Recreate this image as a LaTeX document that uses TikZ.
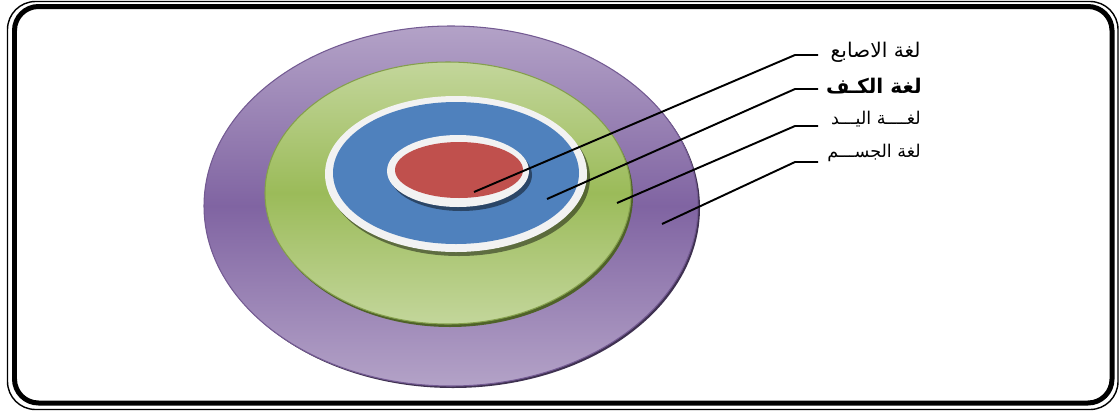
\documentclass[tikz,border=0pt]{standalone}
\usepackage{fontspec}
\newfontfamily\arabicfont[Script=Arabic]{DejaVu Sans}
\TeXXeTstate=1
\usetikzlibrary{positioning,calc}
\definecolor{purpLt}{HTML}{B3A2C7}
\definecolor{purpDk}{HTML}{8064A2}
\definecolor{purpEdge}{HTML}{3F3151}
\definecolor{grnLt}{HTML}{C3D69B}
\definecolor{grnDk}{HTML}{9BBB59}
\definecolor{grnEdge}{HTML}{4F6228}
\definecolor{ringW}{HTML}{F2F2F2}
\definecolor{blueF}{HTML}{4F81BD}
\definecolor{redF}{HTML}{C0504D}
\tikzset{
  frameout/.style={line width=0.8pt,black,rounded corners=28*0.2mm},
  framein/.style={line width=5*0.2mm,black,rounded corners=24*0.2mm},
  disc/.style={line width=0.6pt},
  dshadow/.style={fill=black,opacity=0.45},
  leader/.style={line width=1.1pt,black},
  lbl/.style={font=\arabicfont\fontsize{10}{12}\selectfont,inner sep=0pt,anchor=base east},
}
\begin{document}
\begin{tikzpicture}[x=0.02cm,y=-0.02cm]
  \useasboundingbox (0,0) rectangle (1119,416);
  % double frame
  \draw[frameout] (7.5,1.5) rectangle (1118,409.5);
  \draw[framein] (14.5,6.5) rectangle (1112,403);
  % body
  \fill[purpEdge] (453,208) ellipse [x radius=247, y radius=180];
  \shade[top color=purpLt,bottom color=purpLt,middle color=purpDk,draw=purpDk!90!black,disc]
    (451,206) ellipse [x radius=247, y radius=180];
  % hand
  \fill[grnEdge] (450,196) ellipse [x radius=183, y radius=131];
  \shade[top color=grnLt,bottom color=grnLt,middle color=grnDk,draw=grnDk!85!black,disc]
    (448,193) ellipse [x radius=183, y radius=131];
  % palm
  \fill[dshadow] (459,178) ellipse [x radius=131, y radius=78];
  \fill[ringW] (456,174) ellipse [x radius=131, y radius=78];
  \fill[blueF] (456,173) ellipse [x radius=123, y radius=71];
  % fingers
  \fill[dshadow] (461,175) ellipse [x radius=71, y radius=36];
  \fill[ringW] (458,171) ellipse [x radius=71, y radius=36];
  \fill[redF] (459,170) ellipse [x radius=64, y radius=28];
  % leaders
  \foreach \i/\px/\py/\ky in {1/474/192/55, 2/547/199/89, 3/617/203/126, 4/662/224/162}{
    \coordinate (p\i) at (\px,\py);
    \coordinate (k\i) at (795,\ky);
    \coordinate (e\i) at (818,\ky);
    \draw[leader] (p\i) -- (k\i) -- (e\i);
  }
  \node[lbl,font=\arabicfont\fontsize{11.5}{13}\selectfont] (lblFinger) at (921,57) {\beginR لغة الاصابع\endR};
  \node[lbl,font=\arabicfont\bfseries\fontsize{11.5}{14}\selectfont] (lblPalm) at (922,93) {\beginR لغة الكـف\endR};
  \node[lbl] (lblHand) at (921,124) {\beginR لغــــة اليـــد\endR};
  \node[lbl] (lblBody) at (921,157) {\beginR لغة الجســـم\endR};
\end{tikzpicture}
\end{document}
